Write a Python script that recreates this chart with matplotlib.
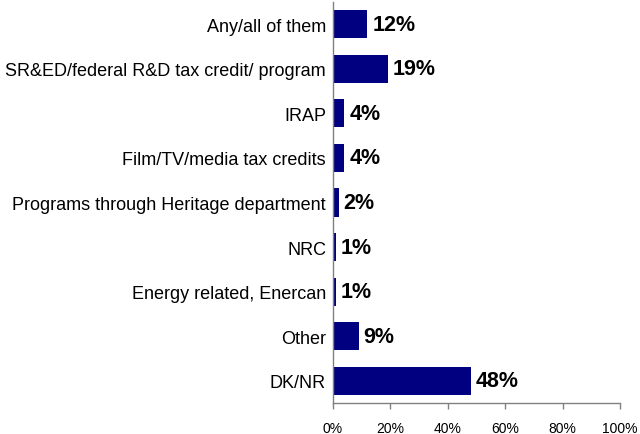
import numpy as np
import matplotlib.pyplot as plt
from matplotlib.ticker import FuncFormatter

plt.rcParams['font.family'] = ['Liberation Sans', 'DejaVu Sans']

categories = ['Any/all of them', 'SR&ED/federal R&D tax credit/ program', 'IRAP',
              'Film/TV/media tax credits', 'Programs through Heritage department',
              'NRC', 'Energy related, Enercan', 'Other', 'DK/NR']
values = [12, 19, 4, 4, 2, 1, 1, 9, 48]

fig = plt.figure(figsize=(6.4, 4.35), dpi=100)
ax = fig.add_axes([333 / 640, 31 / 435, 287 / 640, 401 / 435])

y = np.arange(len(categories))
ax.barh(y, values, height=0.63, color='#000080')
for yi, v in zip(y, values):
    ax.text(v + 1.7, yi, f'{v}%', va='center', ha='left',
            fontsize=15.5, fontweight='bold', color='#000000')

ax.set_ylim(len(categories) - 0.5, -0.5)
ax.set_xlim(0, 100)
ax.set_yticks(y)
ax.set_yticklabels(categories, fontsize=13)
ax.tick_params(axis='y', length=0, pad=5)
ax.set_xticks(np.arange(0, 101, 20))
ax.xaxis.set_major_formatter(FuncFormatter(lambda v, p: f'{v:.0f}%'))
ax.tick_params(axis='x', length=4, width=1, color='#808080', labelsize=10, pad=9)

for s in ['top', 'right']:
    ax.spines[s].set_visible(False)
for s in ['left', 'bottom']:
    ax.spines[s].set_color('#808080')
    ax.spines[s].set_linewidth(1)

fig.savefig('out.png', dpi=100)
